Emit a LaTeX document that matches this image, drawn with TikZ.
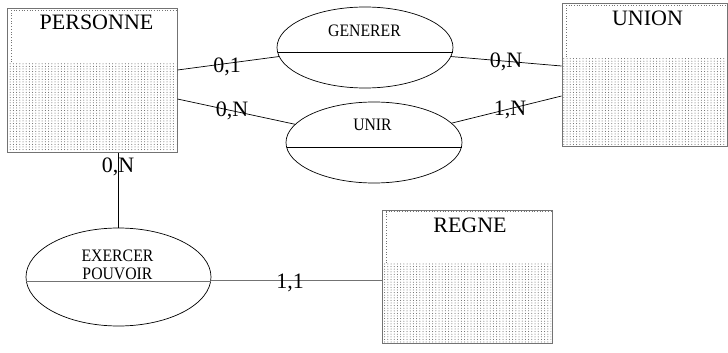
\documentclass[tikz,border=0pt]{standalone}
\usepackage{fontspec}
\setmainfont{Liberation Serif}
\newfontfamily\condf[FakeStretch=0.9]{Liberation Serif}
\usetikzlibrary{shapes.geometric,patterns,calc}
\pgfdeclarepatternformonly{erdots}{\pgfqpoint{0pt}{0pt}}{\pgfqpoint{1.2pt}{1.2pt}}{\pgfqpoint{3.2pt}{2.6pt}}{\pgfpathcircle{\pgfqpoint{0.6pt}{0.6pt}}{0.5pt}\pgfusepath{fill}}
\begin{document}
\begin{tikzpicture}[x=1pt,y=-1pt,
 entity/.style={draw=black!55, line width=1pt, rectangle, inner sep=0pt},
 assoc/.style={draw=black, line width=0.7pt, ellipse, inner sep=0pt},
 ttl/.style={font=\fontsize{22}{24}\selectfont, anchor=base, inner sep=0pt},
 card/.style={font=\fontsize{22}{24}\selectfont, anchor=base, inner sep=0pt},
 aname/.style={font=\condf\fontsize{17.5}{18}\selectfont, anchor=base, inner sep=0pt},
 link/.style={draw=black, line width=0.7pt},
 dotsfill/.style={pattern=erdots, pattern color=black!65},
 edgedots/.style={draw=black!55, dotted, line width=0.7pt}
]
\useasboundingbox (0,0) rectangle (728,353);
% PERSONNE
\fill[dotsfill] (8,62) rectangle (176,151);
\draw[edgedots] (11,62) -- (11,10.5) -- (176,10.5);
\node[entity, minimum width=170pt, minimum height=143pt] (pers) at (92,80.5) {};
% UNION
\fill[dotsfill] (563,57) rectangle (726,145);
\draw[edgedots] (566,57) -- (566,5.5) -- (726,5.5);
\node[entity, minimum width=165pt, minimum height=142pt] (union) at (644.5,75) {};
% REGNE
\fill[dotsfill] (383,263) rectangle (551,342);
\draw[edgedots] (386,263) -- (386,211.5) -- (551,211.5);
\node[entity, minimum width=170pt, minimum height=133pt] (regne) at (467,276.5) {};
% associations
\node[assoc, minimum width=176pt, minimum height=81pt] (gen) at (365,47.5) {};
\node[assoc, minimum width=176pt, minimum height=81pt] (unir) at (374,142.5) {};
\node[assoc, minimum width=185pt, minimum height=98pt] (exe) at (118.5,277) {};
\draw[link] ($(gen.center)+(-87.5,4.5)$) -- ($(gen.center)+(87.5,4.5)$);
\draw[link] ($(unir.center)+(-87.5,4.5)$) -- ($(unir.center)+(87.5,4.5)$);
\draw[link, draw=black!55, line width=1pt] ($(exe.center)+(-92.2,4)$) -- ($(exe.center)+(92.2,4)$);
% titles
\node[ttl] (tpers) at (96.5,30) {PERSONNE};
\node[ttl] (tunion) at (647.5,26) {UNION};
\node[ttl] (tregne) at (470,232) {REGNE};
\node[aname] (tgen) at (364.5,37) {GENERER};
\node[aname] (tunir) at (372.5,130) {UNIR};
\node[aname] (texe1) at (117.5,261) {EXERCER};
\node[aname] (texe2) at (117.5,279) {POUVOIR};
% connectors
\draw[link] ([yshift=10.5pt]pers.east) -- (gen.186);
\draw[link] (gen.354) -- ([yshift=9pt]union.west);
\draw[link] ([yshift=-18.5pt]pers.east) -- (unir.167);
\draw[link] (unir.14) -- ([yshift=-21pt]union.west);
\draw[link] (exe.north |- pers.south) -- (exe.north);
\draw[link, draw=black!55, line width=1pt] (exe.358) -- (exe.358 -| regne.west);
% cardinalities
\node[card] (c1) at (227,72) {0,1};
\node[card] (c2) at (232,116) {0,N};
\node[card] (c3) at (118,172) {0,N};
\node[card] (c4) at (506,67) {0,N};
\node[card] (c5) at (510,115) {1,N};
\node[card] (c6) at (290,288) {1,1};
\end{tikzpicture}
\end{document}
